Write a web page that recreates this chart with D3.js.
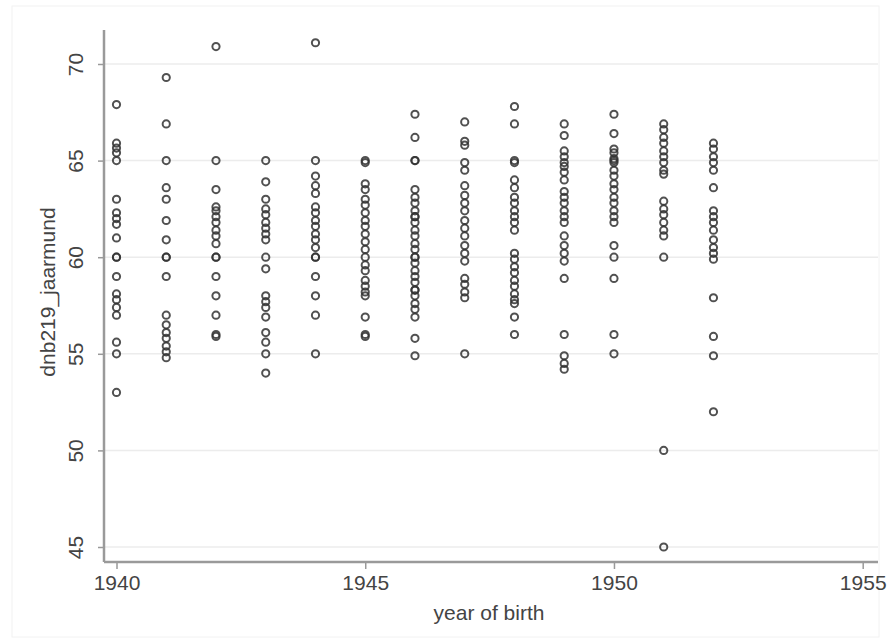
<!DOCTYPE html>
<html>
<head>
<meta charset="utf-8">
<script src="https://cdn.jsdelivr.net/npm/d3@7/dist/d3.min.js"></script>
<style>
  body { margin: 0; background: #fff; }
  text { font-family: "Liberation Sans", Arial, sans-serif; fill: #444; }
</style>
</head>
<body>
<svg id="chart"></svg>
<script>
// year of birth -> values
var years = [1940, 1941, 1942, 1943, 1944, 1945, 1946, 1947, 1948, 1949, 1950, 1951, 1952];
var v1940 = [67.9, 65.9, 65.65, 65.4, 65.0, 63.0, 62.3, 62.0, 61.7, 61.0, 60.0, 60.0, 59.0, 58.1, 57.8, 57.4, 57.0, 55.6, 55.0, 53.0];
var v1941 = [69.3, 66.9, 65.0, 63.6, 63.0, 61.9, 60.9, 60.0, 60.0, 59.0, 57.0, 56.5, 56.1, 55.8, 55.4, 55.1, 54.8];
var v1942 = [70.9, 65.0, 63.5, 62.6, 62.4, 62.1, 61.8, 61.4, 61.1, 60.7, 60.0, 60.0, 59.0, 58.0, 57.0, 56.0, 55.9];
var v1943 = [65.0, 63.9, 63.0, 62.5, 62.2, 61.8, 61.5, 61.2, 60.9, 60.0, 59.4, 58.0, 57.7, 57.4, 56.9, 56.1, 55.6, 55.0, 54.0];
var v1944 = [71.1, 65.0, 64.2, 63.7, 63.3, 62.6, 62.3, 61.9, 61.6, 61.2, 60.9, 60.5, 60.0, 60.0, 59.0, 58.0, 57.0, 55.0];
var v1945 = [65.0, 64.9, 63.8, 63.5, 63.0, 62.7, 62.3, 61.9, 61.6, 61.2, 60.8, 60.4, 60.0, 59.6, 59.3, 58.8, 58.5, 58.2, 58.0, 56.9, 56.0, 55.9];
var v1946 = [67.4, 66.2, 65.0, 65.0, 63.5, 63.1, 62.8, 62.4, 62.1, 62.1, 61.8, 61.4, 61.1, 60.7, 60.4, 60.0, 60.0, 59.7, 59.3, 59.0, 58.7, 58.3, 58.3, 58.0, 57.6, 57.3, 56.9, 55.8, 54.9];
var v1947 = [67.0, 66.0, 65.8, 64.9, 64.5, 63.7, 63.2, 62.8, 62.4, 61.9, 61.5, 61.1, 60.6, 60.2, 59.8, 58.9, 58.6, 58.2, 57.9, 55.0];
var v1948 = [67.8, 66.9, 65.0, 64.9, 64.0, 63.6, 63.1, 62.8, 62.4, 62.1, 61.8, 61.4, 60.2, 59.9, 59.5, 59.2, 58.8, 58.5, 58.1, 57.8, 57.6, 56.9, 56.0];
var v1949 = [66.9, 66.3, 65.5, 65.2, 64.9, 64.7, 64.4, 64.0, 63.4, 63.1, 62.8, 62.4, 62.1, 61.8, 61.1, 60.6, 60.2, 59.8, 58.9, 56.0, 54.9, 54.5, 54.2];
var v1950 = [67.4, 66.4, 65.6, 65.4, 65.1, 65.0, 64.9, 64.5, 64.2, 63.8, 63.5, 63.1, 62.8, 62.4, 62.1, 61.8, 60.6, 60.0, 58.9, 56.0, 55.0];
var v1951 = [66.9, 66.6, 66.2, 65.9, 65.5, 65.2, 64.9, 64.5, 64.3, 62.9, 62.5, 62.2, 61.8, 61.4, 61.1, 60.0, 50.0, 45.0];
var v1952 = [65.9, 65.6, 65.2, 64.9, 64.5, 63.6, 62.4, 62.1, 61.8, 61.4, 60.9, 60.5, 60.2, 59.9, 57.9, 55.9, 54.9, 52.0];
var valuesByYear = [v1940, v1941, v1942, v1943, v1944, v1945, v1946, v1947, v1948, v1949, v1950, v1951, v1952];

var xTicks = [1940, 1945, 1950, 1955];
var yTicks = [45, 50, 55, 60, 65, 70];
var xTitle = "year of birth";
var yTitle = "dnb219_jaarmund";

var w = 887, h = 643;
var plotLeft = 104, plotRight = 878, plotTop = 30, plotBottom = 562;
var fontSize = "21px";

var points = [];
years.forEach(function(yr, i){
  valuesByYear[i].forEach(function(v){ points.push({year: yr, value: v}); });
});

var x = d3.scaleLinear().domain([1940, 1955]).range([116.5, 862.7]);
var y = d3.scaleLinear().domain([45, 70]).range([547, 64]);

var svg = d3.select("#chart").attr("width", w).attr("height", h);

// faint outer frame
svg.append("rect")
  .attr("x", 12).attr("y", 6)
  .attr("width", w - 20).attr("height", h - 12)
  .attr("fill", "none").attr("stroke", "#f2f2f2");

// grid lines
svg.append("g")
  .selectAll("line")
  .data(yTicks)
  .enter()
  .append("line")
    .attr("x1", plotLeft).attr("x2", plotRight)
    .attr("y1", function(d){ return y(d); })
    .attr("y2", function(d){ return y(d); })
    .attr("stroke", "#ececec")
    .attr("stroke-width", 1.5);

// y axis
var yAxis = d3.axisLeft(y).tickValues(yTicks).tickSize(6).tickFormat(d3.format("d"));
var gy = svg.append("g")
  .attr("transform", "translate(" + plotLeft + ",0)")
  .call(yAxis);
gy.select(".domain").remove();
gy.selectAll(".tick line").attr("stroke", "#999").attr("stroke-width", 1.5);
gy.selectAll(".tick text")
  .attr("x", 0).attr("dy", null)
  .attr("transform", "translate(-29,0) rotate(-90)")
  .attr("text-anchor", "middle")
  .attr("dominant-baseline", "central")
  .style("font-size", fontSize)
  .style("font-family", "'Liberation Sans', Arial, sans-serif")
  .attr("fill", "#555");
svg.append("line")
  .attr("x1", plotLeft).attr("x2", plotLeft)
  .attr("y1", plotTop).attr("y2", plotBottom)
  .attr("stroke", "#9a9a9a").attr("stroke-width", 2.5);

// x axis
var xAxis = d3.axisBottom(x).tickValues(xTicks).tickSize(7).tickFormat(d3.format("d"));
var gx = svg.append("g")
  .attr("transform", "translate(0," + plotBottom + ")")
  .call(xAxis);
gx.select(".domain").remove();
gx.selectAll(".tick line").attr("stroke", "#999").attr("stroke-width", 1.5);
gx.selectAll(".tick text")
  .attr("y", 13)
  .style("font-size", fontSize)
  .style("font-family", "'Liberation Sans', Arial, sans-serif")
  .attr("fill", "#555");
svg.append("line")
  .attr("x1", plotLeft).attr("x2", plotRight)
  .attr("y1", plotBottom).attr("y2", plotBottom)
  .attr("stroke", "#9a9a9a").attr("stroke-width", 2.5);

// titles
svg.append("text")
  .attr("x", 489)
  .attr("y", 620)
  .attr("text-anchor", "middle")
  .style("font-size", fontSize)
  .attr("fill", "#555")
  .text(xTitle);

svg.append("text")
  .attr("transform", "translate(47,292) rotate(-90)")
  .attr("text-anchor", "middle")
  .attr("dominant-baseline", "central")
  .style("font-size", fontSize)
  .attr("fill", "#555")
  .text(yTitle);

// hollow circle markers
svg.append("g")
  .selectAll("circle")
  .data(points)
  .enter()
  .append("circle")
    .attr("cx", function(d){ return x(d.year); })
    .attr("cy", function(d){ return y(d.value); })
    .attr("r", 3.6)
    .attr("fill", "none")
    .attr("stroke", "#333")
    .attr("stroke-width", 2)
    .attr("stroke-opacity", 0.85);
</script>
</body>
</html>
